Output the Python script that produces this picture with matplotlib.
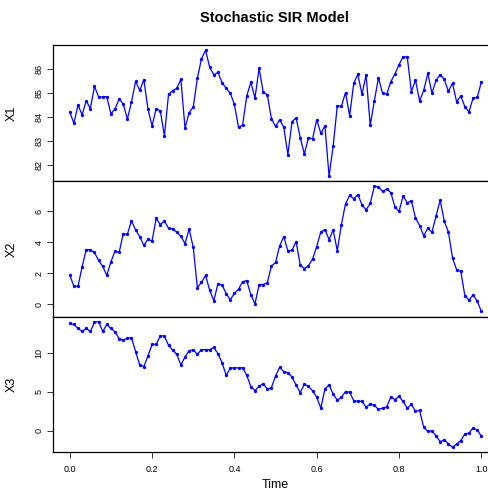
import numpy as np
import matplotlib
matplotlib.use("Agg")
import matplotlib.pyplot as plt

plt.rcParams['font.family'] = ['Liberation Sans', 'DejaVu Sans']

time = np.linspace(0, 1, 101)

x1 = [84.22, 83.75, 84.51, 84.10, 84.69, 84.36, 85.29, 84.85, 84.85, 84.86,
      84.14, 84.35, 84.76, 84.55, 83.92, 84.64, 85.50, 85.12, 85.57, 84.33,
      83.65, 84.36, 84.26, 83.23, 84.96, 85.11, 85.21, 85.58, 83.55, 84.19,
      84.42, 85.62, 86.44, 86.79, 86.08, 85.76, 85.87, 85.44, 85.21, 85.00,
      84.54, 83.58, 83.68, 84.89, 85.46, 84.80, 86.04, 85.05, 84.94, 83.94,
      83.62, 83.89, 83.58, 82.44, 83.82, 83.97, 83.15, 82.47, 83.15, 83.10,
      83.90, 83.33, 83.64, 81.54, 82.80, 84.48, 84.46, 85.03, 84.06, 85.42,
      85.79, 84.96, 85.76, 83.67, 84.67, 85.65, 85.00, 84.96, 85.48, 85.80,
      86.19, 86.53, 86.51, 85.07, 85.55, 84.68, 85.12, 85.83, 85.00, 85.54,
      85.78, 85.58, 85.08, 85.42, 84.64, 84.89, 84.44, 84.23, 84.80, 84.83,
      85.46]

x2 = [1.89, 1.17, 1.17, 2.41, 3.53, 3.51, 3.34, 2.83, 2.45, 1.87,
      2.74, 3.43, 3.34, 4.55, 4.51, 5.38, 4.79, 4.36, 3.79, 4.19,
      4.08, 5.53, 5.13, 5.36, 4.89, 4.85, 4.64, 4.38, 3.91, 4.83,
      3.68, 1.08, 1.42, 1.87, 0.91, 0.23, 1.34, 1.26, 0.70, 0.30,
      0.72, 0.98, 1.47, 1.53, 0.62, 0.04, 1.28, 1.28, 1.40, 2.47,
      2.70, 3.77, 4.36, 3.43, 3.49, 4.04, 2.53, 2.30, 2.49, 2.92,
      3.72, 4.66, 4.81, 4.17, 4.79, 3.45, 5.13, 6.47, 7.00, 6.79,
      7.06, 6.40, 6.08, 6.49, 7.59, 7.57, 7.26, 7.42, 7.19, 6.27,
      5.98, 6.98, 6.53, 6.66, 5.57, 5.06, 4.42, 4.89, 4.64, 5.68,
      6.70, 5.34, 4.66, 2.98, 2.23, 2.13, 0.57, 0.28, 0.62, 0.23,
      -0.45]

x3 = [13.81, 13.68, 13.17, 12.78, 13.17, 12.78, 13.94, 14.06, 12.78, 13.68,
      13.17, 12.74, 11.85, 11.67, 11.92, 11.97, 10.18, 8.46, 8.26, 9.62,
      11.12, 11.12, 12.23, 12.19, 10.99, 10.38, 9.83, 8.46, 9.49, 10.30,
      10.44, 9.83, 10.44, 10.44, 10.44, 10.73, 9.92, 8.77, 7.14, 8.04,
      8.12, 8.08, 8.12, 7.14, 5.68, 5.17, 5.73, 6.07, 5.35, 5.56,
      7.05, 8.17, 7.61, 7.49, 6.92, 5.86, 4.92, 5.99, 5.73, 5.13,
      4.32, 2.91, 5.38, 5.90, 4.71, 3.94, 4.28, 5.05, 4.96, 3.85,
      3.81, 3.77, 3.04, 3.42, 3.29, 2.74, 2.91, 3.08, 4.32, 4.02,
      4.41, 3.77, 2.91, 3.38, 2.53, 2.61, 0.43, -0.08, 0.00, -0.68,
      -1.41, -1.15, -1.71, -2.13, -1.71, -1.28, -0.42, -0.29, 0.35, 0.09,
      -0.68]

series = [x1, x2, x3]
names = ["X1", "X2", "X3"]
yticks = [[82, 83, 84, 85, 86], [0, 2, 4, 6], [0, 5, 10]]
xticks = [0.0, 0.2, 0.4, 0.6, 0.8, 1.0]

W, H = 489, 490
fig = plt.figure(figsize=(W / 100, H / 100), dpi=100)

left = 53.3 / W
right = 497.8 / W
tops = [45.3, 181.3, 316.5]
bottoms = [181.3, 316.5, 452.3]
label_x = (18 - 53.3) / (497.8 - 53.3)

for i in range(3):
    ax = fig.add_axes([left, 1 - bottoms[i] / H, right - left, (bottoms[i] - tops[i]) / H])
    y = np.array(series[i])
    ax.plot(time, y, color='blue', linewidth=0.9, marker='o', markersize=2.4,
            markeredgewidth=0)
    ax.set_xlim(-0.04, 1.04)
    lo, hi = y.min(), y.max()
    pad = 0.04 * (hi - lo)
    ax.set_ylim(lo - pad, hi + pad)
    ax.set_yticks(yticks[i])
    ax.set_yticklabels([str(v) for v in yticks[i]], rotation=90, va='center', fontsize=6.5)
    ax.tick_params(axis='y', length=4, width=0.7, pad=3, color='#333333')
    ax.set_ylabel(names[i], fontsize=9)
    ax.yaxis.set_label_coords(label_x, 0.5)
    for s in ax.spines.values():
        s.set_linewidth(0.9)
    if i < 2:
        ax.set_xticks([])
    else:
        ax.set_xticks(xticks)
        ax.set_xticklabels([f"{v:.1f}" for v in xticks], fontsize=6.5)
        ax.tick_params(axis='x', length=4, width=0.7, pad=5, color='#333333')

fig.text(275.5 / W, 1 - 484.5 / H, "Time", ha='center', va='center', fontsize=9)
fig.text(274.7 / W, 1 - 18.3 / H, "Stochastic SIR Model", ha='center', va='center',
         fontsize=10.5, fontweight='bold')

fig.savefig("out.png", dpi=100)
